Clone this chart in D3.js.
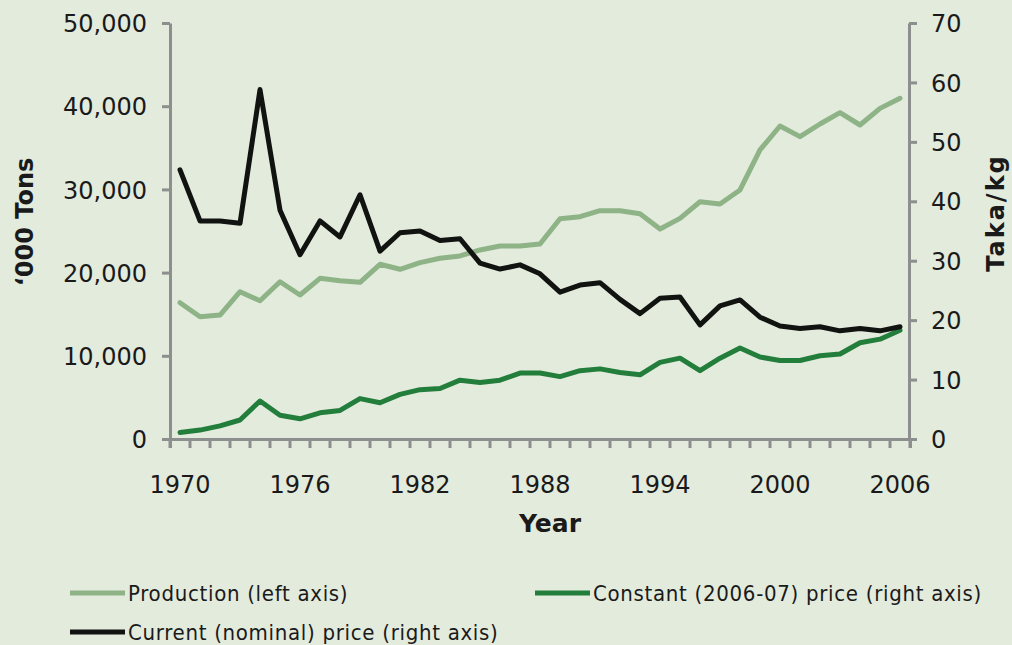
<!DOCTYPE html>
<html>
<head>
<meta charset="utf-8">
<script src="https://cdn.jsdelivr.net/npm/d3@7"></script>
<style>
  html, body { margin: 0; padding: 0; background: #e3ebdd; }
  svg { display: block; }
</style>
</head>
<body>
<svg id="chart" width="1012" height="645"></svg>
<script>
const years = d3.range(1970, 2007);
const tickYears = [1970, 1976, 1982, 1988, 1994, 2000, 2006];

// '000 tons, left axis
const production = [16380, 14700, 14900, 17700, 16620, 18900, 17310, 19310, 19030, 18830,
  21000, 20400, 21200, 21720, 22000, 22720, 23200, 23200, 23440, 26480,
  26720, 27440, 27440, 27080, 25250, 26520, 28520, 28250, 29930, 34740,
  37620, 36340, 37860, 39220, 37740, 39740, 40950];

// Taka/kg, right axis
const constantPrice = [1.1, 1.5, 2.2, 3.2, 6.4, 4.0, 3.4, 4.4, 4.8, 6.8,
  6.1, 7.5, 8.3, 8.5, 9.9, 9.5, 9.9, 11.1, 11.1, 10.5,
  11.5, 11.8, 11.2, 10.8, 12.9, 13.6, 11.5, 13.6, 15.3, 13.8,
  13.2, 13.2, 14.0, 14.3, 16.2, 16.8, 18.3];

const currentPrice = [45.3, 36.7, 36.7, 36.3, 58.8, 38.5, 31.0, 36.7, 34.0, 41.1,
  31.6, 34.7, 35.0, 33.4, 33.7, 29.6, 28.6, 29.3, 27.8, 24.7,
  25.9, 26.3, 23.5, 21.1, 23.7, 23.9, 19.2, 22.4, 23.4, 20.5,
  19.0, 18.6, 18.9, 18.2, 18.6, 18.2, 18.9];

const leftTicks = [0, 10000, 20000, 30000, 40000, 50000];
const rightTicks = [0, 10, 20, 30, 40, 50, 60, 70];

const series = [
  { name: "Production (left axis)", values: production, axis: "left", color: "#8db387" },
  { name: "Constant (2006-07) price (right axis)", values: constantPrice, axis: "right", color: "#237e3c" },
  { name: "Current (nominal) price (right axis)", values: currentPrice, axis: "right", color: "#111311" }
];

const svg = d3.select("#chart");
const axisColor = "#8c8f8e";
const textColor = "#1a1a1a";
const tickFont = "DejaVu Sans, Verdana, sans-serif";

const x = d3.scaleBand().domain(years).range([170, 910]);
const yLeft = d3.scaleLinear().domain([0, 50000]).range([439, 23]);
const yRight = d3.scaleLinear().domain([0, 70]).range([439, 23]);

// lines
series.forEach((s) => {
  const y = s.axis === "left" ? yLeft : yRight;
  const line = d3.line()
    .x((d, i) => x(years[i]) + x.bandwidth() / 2)
    .y((d) => y(d));
  svg.append("path")
    .datum(s.values)
    .attr("fill", "none")
    .attr("stroke", s.color)
    .attr("stroke-width", 5)
    .attr("stroke-linejoin", "round")
    .attr("stroke-linecap", "round")
    .attr("d", line);
});

function styleAxis(g) {
  g.selectAll(".domain").attr("stroke", axisColor).attr("stroke-width", 3);
  g.selectAll(".tick line").attr("stroke", axisColor).attr("stroke-width", 3);
  g.selectAll(".tick text").attr("fill", textColor).attr("font-family", tickFont).attr("font-size", "24px");
}

// x axis: tick every year, label every 6
const gx = svg.append("g")
  .attr("transform", "translate(0,439)")
  .call(d3.axisBottom(x).tickSizeOuter(0).tickSize(9).tickFormat((d) => tickYears.includes(d) ? d : ""));
gx.selectAll(".tick line").attr("x1", -x.bandwidth() / 2).attr("x2", -x.bandwidth() / 2);
gx.append("line").attr("class", "end").attr("x1", 910).attr("x2", 910).attr("y1", 0).attr("y2", 9)
  .attr("stroke", axisColor).attr("stroke-width", 3);
styleAxis(gx);
gx.selectAll(".tick text").attr("y", 54).attr("dy", 0);

const gl = svg.append("g")
  .attr("transform", "translate(170,0)")
  .call(d3.axisLeft(yLeft).tickValues(leftTicks).tickSize(8).tickSizeOuter(0).tickPadding(15).tickFormat(d3.format(",")));
styleAxis(gl);
gl.selectAll(".tick text").attr("dy", "0.36em");

const gr = svg.append("g")
  .attr("transform", "translate(909,0)")
  .call(d3.axisRight(yRight).tickValues(rightTicks).tickSize(8).tickSizeOuter(0).tickPadding(14));
styleAxis(gr);
gr.selectAll(".tick text").attr("dy", "0.36em");

// axis titles
svg.append("text")
  .attr("transform", "translate(33,222) rotate(-90)")
  .attr("text-anchor", "middle")
  .attr("font-family", tickFont).attr("font-weight", "bold").attr("font-size", "24px")
  .attr("fill", textColor)
  .text("\u2018000 Tons");

svg.append("text")
  .attr("transform", "translate(1004,213) rotate(-90)")
  .attr("text-anchor", "middle")
  .attr("font-family", tickFont).attr("font-weight", "bold").attr("font-size", "24px")
  .attr("letter-spacing", "2px")
  .attr("fill", textColor)
  .text("Taka/kg");

svg.append("text")
  .attr("x", 550).attr("y", 532)
  .attr("text-anchor", "middle")
  .attr("font-family", tickFont).attr("font-weight", "bold").attr("font-size", "25px")
  .attr("fill", textColor)
  .text("Year");

// legend
const legendPos = [[70, 593], [535, 593], [70, 632]];
const legend = svg.append("g").selectAll("g")
  .data(series)
  .join("g")
  .attr("transform", (d, i) => "translate(" + legendPos[i][0] + "," + legendPos[i][1] + ")");
legend.append("line")
  .attr("x1", 0).attr("x2", 55).attr("y1", 0).attr("y2", 0)
  .attr("stroke", (d) => d.color).attr("stroke-width", 5);
legend.append("text")
  .attr("x", 58).attr("y", 0).attr("dy", "0.35em")
  .attr("font-family", "Liberation Sans Narrow, DejaVu Sans Condensed, sans-serif")
  .attr("font-size", "22px")
  .attr("letter-spacing", "0.7px")
  .attr("fill", textColor)
  .text((d) => d.name);
</script>
</body>
</html>
